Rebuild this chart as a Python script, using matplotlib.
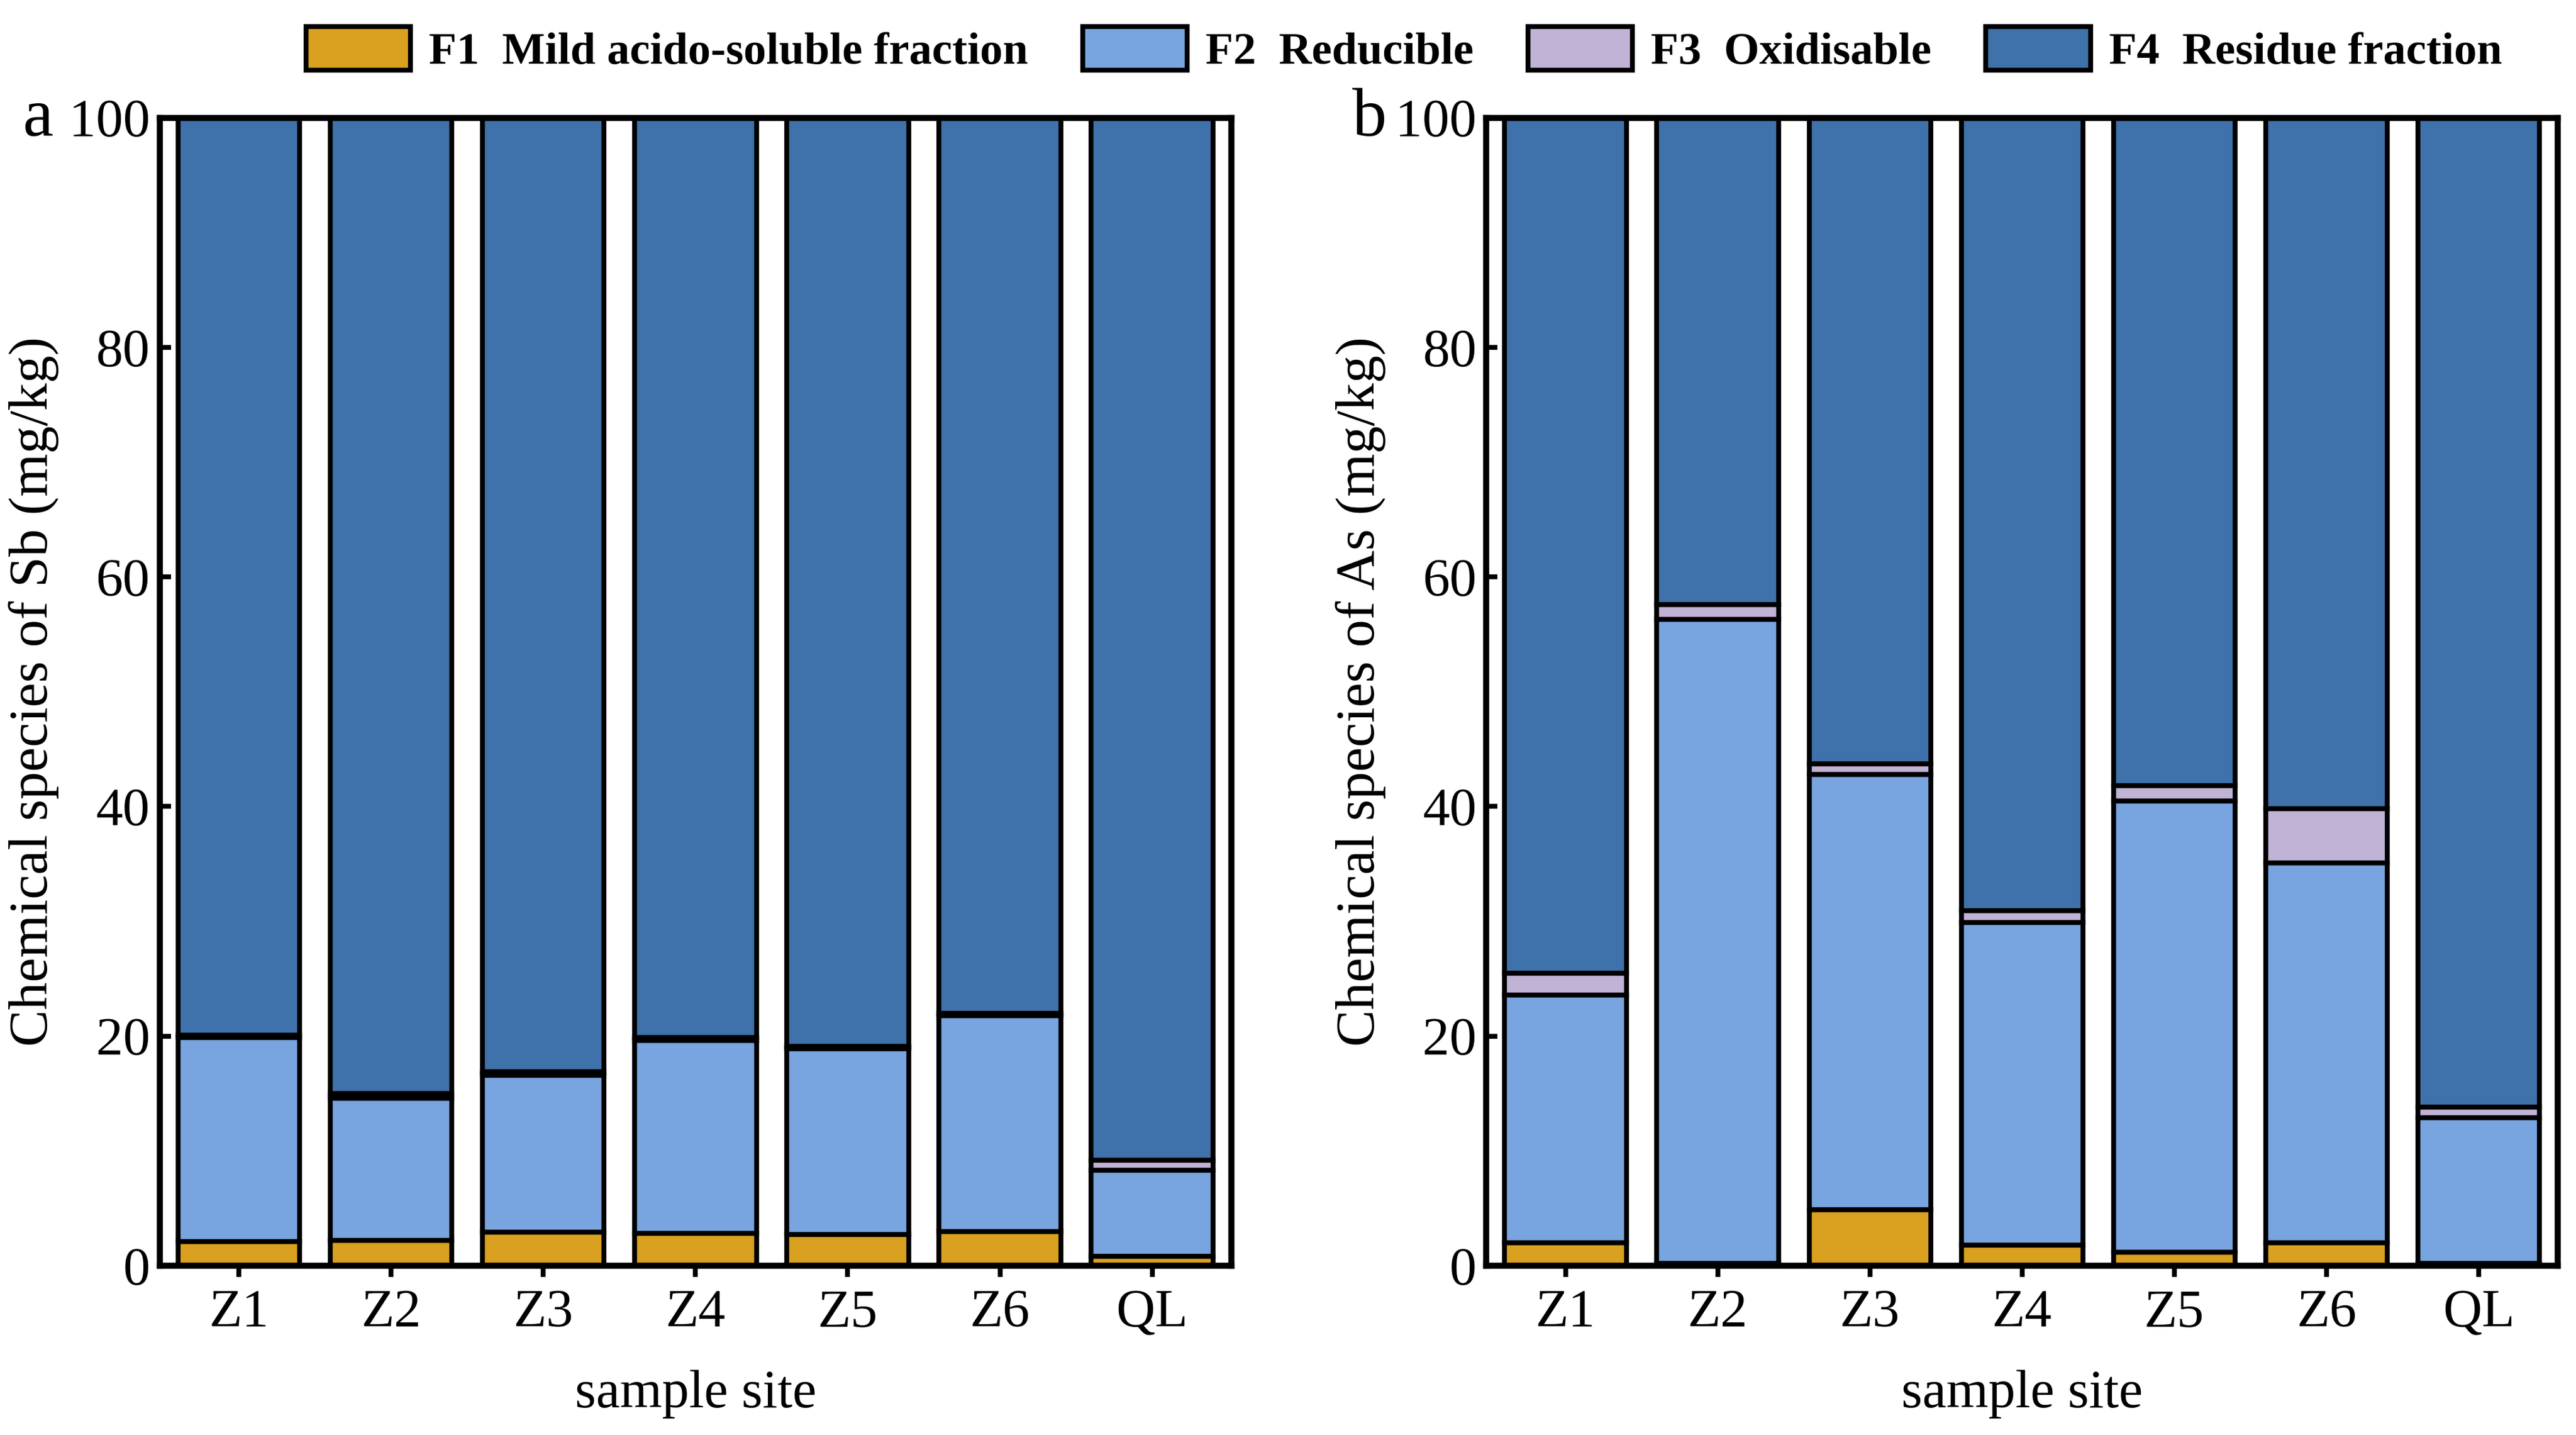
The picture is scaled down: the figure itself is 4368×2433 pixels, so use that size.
import matplotlib
matplotlib.use("Agg")
import matplotlib.pyplot as plt
import numpy as np

plt.rcParams['font.family'] = ['Liberation Serif', 'DejaVu Serif']

sites = ["Z1", "Z2", "Z3", "Z4", "Z5", "Z6", "QL"]
fractions = ["F1  Mild acido-soluble fraction", "F2  Reducible",
             "F3  Oxidisable", "F4  Residue fraction"]
colors = ["#DAA020", "#78A5DF", "#C1B3D6", "#3F72AA"]

# Sb (panel a), percent
sb_f1 = [2.1, 2.2, 2.9, 2.8, 2.7, 3.0, 0.8]
sb_f2 = [17.8, 12.4, 13.7, 16.8, 16.2, 18.8, 7.5]
sb_f3 = [0.2, 0.4, 0.3, 0.3, 0.2, 0.2, 0.9]
sb_f4 = [100 - a - b - c for a, b, c in zip(sb_f1, sb_f2, sb_f3)]

# As (panel b), percent
as_f1 = [2.0, 0.2, 4.9, 1.8, 1.2, 2.0, 0.2]
as_f2 = [21.6, 56.1, 37.9, 28.1, 39.3, 33.1, 12.7]
as_f3 = [1.9, 1.3, 0.9, 1.0, 1.3, 4.7, 0.9]
as_f4 = [100 - a - b - c for a, b, c in zip(as_f1, as_f2, as_f3)]


def draw_panel(ax, parts, ylabel):
    x = np.arange(len(sites))
    bottom = np.zeros(len(sites))
    for vals, col, lab in zip(parts, colors, fractions):
        ax.bar(x, vals, 0.8, bottom=bottom, color=col, edgecolor="black",
               linewidth=2.0, label=lab)
        bottom += np.array(vals)
    ax.set_xlim(-0.52, 6.52)
    ax.set_ylim(0, 100)
    ax.set_xticks(x)
    ax.set_xticklabels(sites)
    ax.set_yticks([0, 20, 40, 60, 80, 100])
    ax.tick_params(axis="y", direction="in", length=4.5, width=2, labelsize=22, pad=4)
    ax.tick_params(axis="x", direction="out", length=4.5, width=2, labelsize=22, pad=5)
    for s in ax.spines.values():
        s.set_linewidth(2.5)
    ax.set_xlabel("sample site", fontsize=22, labelpad=13)
    ax.set_ylabel(ylabel, fontsize=22.5, labelpad=4)


fig = plt.figure(figsize=(14.56, 8.11), dpi=300)
ax1 = fig.add_axes([0.062, 0.118, 0.416, 0.8])
ax2 = fig.add_axes([0.577, 0.118, 0.416, 0.8])

draw_panel(ax1, [sb_f1, sb_f2, sb_f3, sb_f4], "Chemical species of Sb (mg/kg)")
draw_panel(ax2, [as_f1, as_f2, as_f3, as_f4], "Chemical species of As (mg/kg)")

fig.text(0.009, 0.917, "a", fontsize=28, va="center")
fig.text(0.525, 0.917, "b", fontsize=28, va="center")

handles, labels = ax1.get_legend_handles_labels()
fig.legend(handles, labels, loc="upper center", bbox_to_anchor=(0.545, 1.01),
           ncol=4, frameon=False, prop={"weight": "bold", "size": 18.5},
           handlelength=2.3, handleheight=1.1, handletextpad=0.4,
           columnspacing=1.2)

fig.savefig("out.png", dpi=300)
